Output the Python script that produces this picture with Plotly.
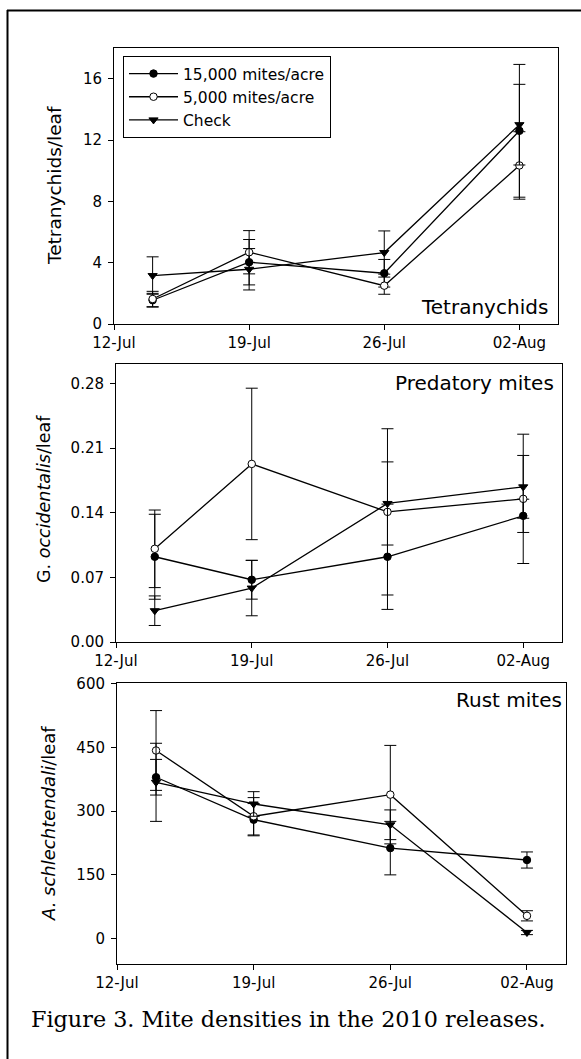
import plotly.graph_objects as go

W, H = 581, 1059

# ---------------- data ----------------
dates = ["2010-07-14", "2010-07-19", "2010-07-26", "2010-08-02"]
tick_dates = ["2010-07-12", "2010-07-19", "2010-07-26", "2010-08-02"]
series_names = ["15,000 mites/acre", "5,000 mites/acre", "Check"]

# Tetranychids / leaf
tet_15k = [1.55, 4.03, 3.31, 12.6]
tet_15k_se = [0.45, 1.48, 0.90, 4.33]
tet_5k = [1.63, 4.68, 2.50, 10.34]
tet_5k_se = [0.50, 1.41, 0.56, 2.20]
tet_chk = [3.16, 3.57, 4.66, 13.0]
tet_chk_se = [1.22, 1.35, 1.41, 2.63]

# G. occidentalis / leaf
pred_15k = [0.0923, 0.0674, 0.0923, 0.1366]
pred_15k_se = [0.046, 0.021, 0.057, 0.018]
pred_5k = [0.1009, 0.1928, 0.1409, 0.155]
pred_5k_se = [0.042, 0.082, 0.090, 0.070]
pred_chk = [0.0339, 0.0584, 0.150, 0.168]
pred_chk_se = [0.016, 0.030, 0.045, 0.034]

# A. schlechtendali / leaf
rust_15k = [380, 280, 213, 185]
rust_15k_se = [42, 38, 63, 19]
rust_5k = [443, 288, 339, 53.5]
rust_5k_se = [94, 44, 116, 12]
rust_chk = [368, 317, 268, 14.2]
rust_chk_se = [92, 29, 35, 5]

tet_ticks = [0, 4, 8, 12, 16]
pred_ticks = [0.00, 0.07, 0.14, 0.21, 0.28]
rust_ticks = [0, 150, 300, 450, 600]

# ---------------- helpers ----------------
def px(x):
    return x / W

def py(y):
    return 1 - y / H

SANS = "DejaVu Sans"
markers = [
    dict(symbol="circle", size=7.5, color="black", line=dict(color="black", width=1)),
    dict(symbol="circle", size=7.5, color="white", line=dict(color="black", width=1)),
    dict(symbol="triangle-down", size=8, color="black", line=dict(color="black", width=1)),
]

fig = go.Figure()

panels = [
    (1, [tet_15k, tet_5k, tet_chk], [tet_15k_se, tet_5k_se, tet_chk_se]),
    (2, [pred_15k, pred_5k, pred_chk], [pred_15k_se, pred_5k_se, pred_chk_se]),
    (3, [rust_15k, rust_5k, rust_chk], [rust_15k_se, rust_5k_se, rust_chk_se]),
]

for idx, ys, es in panels:
    xa = "x" if idx == 1 else f"x{idx}"
    ya = "y" if idx == 1 else f"y{idx}"
    for k in range(3):
        fig.add_trace(go.Scatter(
            x=dates, y=ys[k], name=series_names[k],
            mode="lines+markers",
            line=dict(color="black", width=1.3),
            marker=markers[k],
            error_y=dict(type="data", array=es[k], visible=True,
                         color="black", thickness=1, width=6),
            xaxis=xa, yaxis=ya,
            showlegend=(idx == 1),
        ))

# panel geometry in pixels (left, right, top, bottom)
geo = {
    1: (114, 558, 48, 324),
    2: (116, 562, 364, 642),
    3: (117, 566, 683, 964),
}
yranges = {1: [0, 18], 2: [0, 0.301], 3: [-60, 602]}
yticks = {1: tet_ticks, 2: pred_ticks, 3: rust_ticks}
yfmt = {1: "d", 2: ".2f", 3: "d"}

layout = dict(
    width=W, height=H,
    margin=dict(l=0, r=0, t=0, b=0, pad=0, autoexpand=False),
    paper_bgcolor="white", plot_bgcolor="white",
    font=dict(family=SANS, color="black", size=15),
    showlegend=True,
    legend=dict(
        x=px(123), y=py(56), xanchor="left", yanchor="top",
        bgcolor="white", bordercolor="black", borderwidth=1,
        font=dict(family=SANS, size=15.5, color="black"),
        itemwidth=49, tracegroupgap=0,
    ),
)

for idx, (l, r, t, b) in geo.items():
    xk = "xaxis" if idx == 1 else f"xaxis{idx}"
    yk = "yaxis" if idx == 1 else f"yaxis{idx}"
    layout[xk] = dict(
        type="date", domain=[px(l), px(r)],
        range=["2010-07-12", "2010-08-04"],
        tickvals=tick_dates, tickformat="%d-%b",
        showgrid=False, zeroline=False,
        showline=True, mirror=True, linecolor="black", linewidth=1,
        ticks="outside", ticklen=5, tickcolor="black", tickwidth=1,
        tickfont=dict(family=SANS, size=15, color="black"),
        anchor="y" if idx == 1 else f"y{idx}",
        automargin=False, fixedrange=True,
    )
    layout[yk] = dict(
        domain=[py(b), py(t)],
        range=yranges[idx], tickvals=yticks[idx], tickformat=yfmt[idx],
        showgrid=False, zeroline=False,
        showline=True, mirror=True, linecolor="black", linewidth=1,
        ticks="outside", ticklen=5, tickcolor="black", tickwidth=1,
        tickfont=dict(family=SANS, size=15, color="black"),
        ticklabelstandoff=3,
        anchor="x" if idx == 1 else f"x{idx}",
        automargin=False, fixedrange=True,
    )

fig.update_layout(**layout)

annotations = [
    # y-axis titles
    dict(text="Tetranychids/leaf", x=px(54), y=py(186), textangle=-90,
         font=dict(family=SANS, size=18.5)),
    dict(text="G. <i>occidentalis</i>/leaf", x=px(44), y=py(499), textangle=-90,
         font=dict(family=SANS, size=17.5)),
    dict(text="<i>A. schlechtendali</i>/leaf", x=px(48), y=py(824), textangle=-90,
         font=dict(family=SANS, size=18)),
    # panel labels
    dict(text="Tetranychids", x=px(550), y=py(307), xanchor="right",
         font=dict(family=SANS, size=20)),
    dict(text="Predatory mites", x=px(556), y=py(383), xanchor="right",
         font=dict(family=SANS, size=20)),
    dict(text="Rust mites", x=px(564), y=py(700), xanchor="right",
         font=dict(family=SANS, size=20)),
    # caption
    dict(text="Figure 3. Mite densities in the 2010 releases.", x=px(288), y=py(1019),
         xanchor="center", font=dict(family="DejaVu Serif", size=22.3)),
]
for a in annotations:
    a.setdefault("xanchor", "center")
    a.update(xref="paper", yref="paper", yanchor="middle", showarrow=False)
    a["font"]["color"] = "black"
fig.update_layout(annotations=annotations)

# outer frame (top and left edges visible)
fig.add_shape(type="line", xref="paper", yref="paper",
              x0=px(7), x1=px(W + 5), y0=py(10.5), y1=py(10.5),
              line=dict(color="black", width=2))
fig.add_shape(type="line", xref="paper", yref="paper",
              x0=px(7.5), x1=px(7.5), y0=py(10), y1=py(H + 5),
              line=dict(color="black", width=2))

fig.write_html("out.html")
